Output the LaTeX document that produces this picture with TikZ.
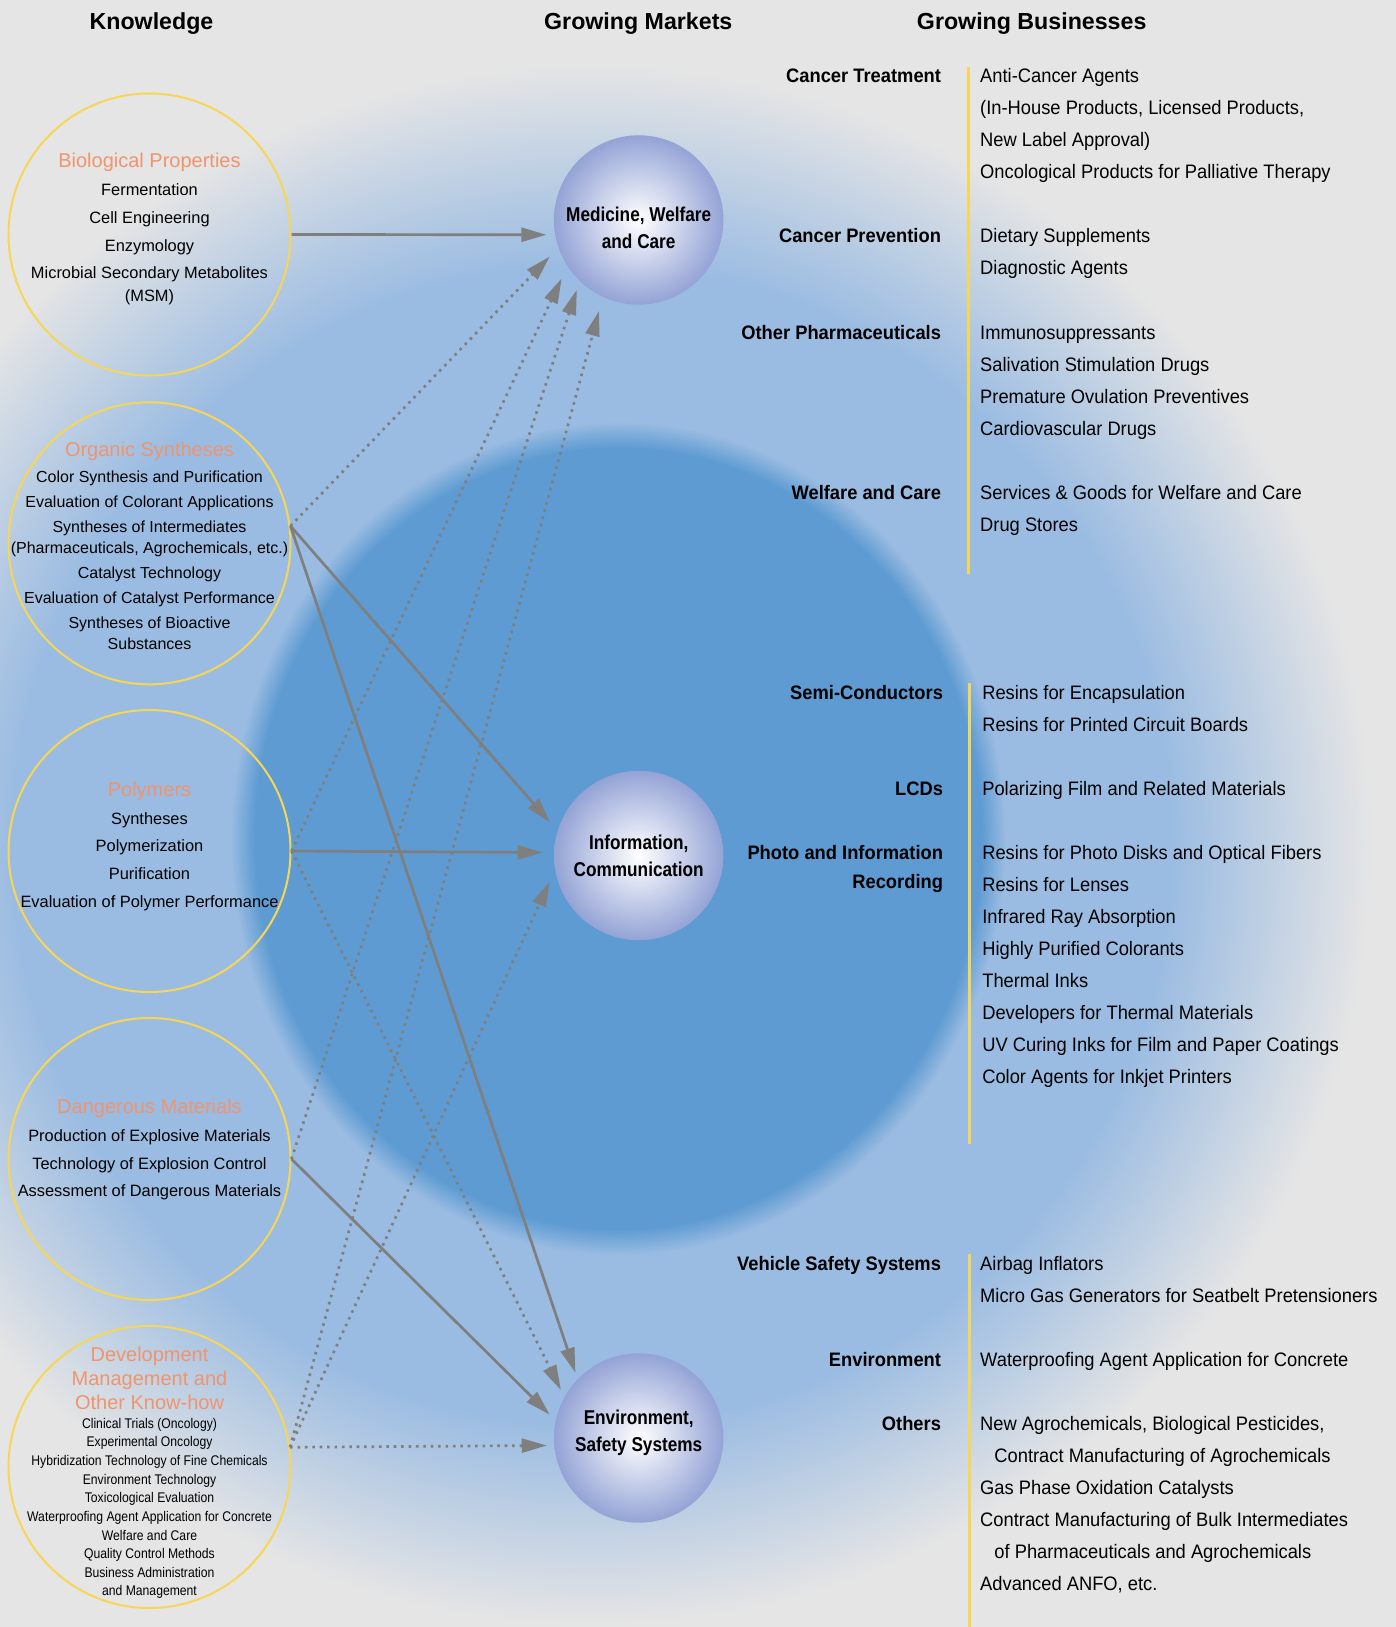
\documentclass[tikz,border=0pt]{standalone}
\usepackage{fontspec}
\setmainfont{Liberation Sans}
\newfontfamily\bizfont{Liberation Sans}[FakeStretch=0.94]
\newfontfamily\ballfont{Liberation Sans}[FakeStretch=0.86]
\newfontfamily\knowfont{Liberation Sans}[FakeStretch=0.87]
\usetikzlibrary{arrows.meta}
\definecolor{bggray}{RGB}{229,229,229}
\definecolor{ltblue}{RGB}{155,188,226}
\definecolor{dkblue}{RGB}{93,155,210}
\definecolor{ballrim}{RGB}{148,163,214}
\definecolor{kyellow}{RGB}{247,214,86}
\definecolor{korange}{RGB}{241,148,108}
\definecolor{arrgray}{RGB}{127,127,127}
\pgfdeclareradialshading{outerblob}{\pgfpointorigin}{color(0bp)=(ltblue); color(18.6bp)=(ltblue); color(25bp)=(bggray); color(50bp)=(bggray)}
\pgfdeclareradialshading{innerblob}{\pgfpointorigin}{color(0bp)=(dkblue); color(23.4bp)=(dkblue); color(25bp)=(ltblue); color(50bp)=(ltblue)}
\pgfdeclareradialshading{mktball}{\pgfpointorigin}{color(0bp)=(white); color(25bp)=(ballrim); color(50bp)=(ballrim)}
\begin{document}
\begin{tikzpicture}[x=0.5pt,y=-0.5pt,
  knowcirc/.style={circle,draw=kyellow,line width=1pt,minimum size=141pt,inner sep=0pt},
  knowhead/.style={inner sep=0pt,align=center,text=korange,font=\fontsize{10}{11.95}\selectfont},
  knowbody/.style={inner sep=0pt,align=center,font=\fontsize{8.2}{13.8}\selectfont},
  mktnode/.style={circle,shade,shading=mktball,minimum size=84.7pt,inner sep=0pt},
  mkttext/.style={inner sep=0pt,align=center,font=\ballfont\bfseries\fontsize{10}{13.5}\selectfont},
  colhead/.style={inner sep=0pt,text height=8.3pt,text depth=0pt,font=\bfseries\fontsize{11.6}{14}\selectfont},
  bizfield/.style={anchor=east,inner sep=0pt,text height=7pt,text depth=0pt,font=\bizfont\bfseries\fontsize{9.75}{12}\selectfont},
  bizitem/.style={anchor=west,inner sep=0pt,text height=7pt,text depth=0pt,font=\bizfont\fontsize{9.75}{12}\selectfont},
  bizrule/.style={draw=kyellow,line width=1.2pt},
  solidlink/.style={draw=arrgray,line width=1.35pt,-{Triangle[length=12.5pt,width=7pt]},shorten >=5.5pt},
  dotlink/.style={solidlink,dash pattern=on 1.3pt off 2.4pt}]
\useasboundingbox (0,0) rectangle (1396,1627);
\clip (0,0) rectangle (1396,1627);
\fill[bggray] (0,0) rectangle (1396,1627);
\shade[shading=outerblob] (592,845) circle (390pt);
\shade[shading=innerblob] (618,838.5) ellipse (194pt and 208.5pt);

\node[colhead] (hknow) at (151.5,20.8) {Knowledge};
\node[colhead] (hmkt) at (638.3,20.8) {Growing Markets};
\node[colhead] (hbiz) at (1031.7,20.8) {Growing Businesses};

\node[knowcirc] (bio) at (149.5,234.5) {};
\node[knowcirc] (org) at (149.5,543.3) {};
\node[knowcirc] (poly) at (149.5,851) {};
\node[knowcirc] (dang) at (149.5,1159) {};
\node[knowcirc] (dev) at (149.5,1467) {};

\node[knowhead] (biohead) at (149.5,162.5) {Biological Properties};
\node[knowbody] (biobody) at (149.5,244.5) {Fermentation\\Cell Engineering\\Enzymology\\Microbial Secondary Metabolites\\[-2.3pt](MSM)};
\node[knowhead] (orghead) at (149.5,451) {Organic Syntheses};
\node[knowbody,font=\fontsize{8}{12.5}\selectfont] (orgbody) at (149.5,560.5) {Color Synthesis and Purification\\Evaluation of Colorant Applications\\Syntheses of Intermediates\\[-2pt](Pharmaceuticals, Agrochemicals, etc.)\\Catalyst Technology\\Evaluation of Catalyst Performance\\Syntheses of Bioactive\\[-2pt]Substances};
\node[knowhead] (polyhead) at (149.5,791) {Polymers};
\node[knowbody,font=\fontsize{8.2}{13.85}\selectfont] (polybody) at (149.5,861.5) {Syntheses\\Polymerization\\Purification\\Evaluation of Polymer Performance};
\node[knowhead] (danghead) at (149.5,1108.5) {Dangerous Materials};
\node[knowbody,font=\fontsize{8.2}{13.75}\selectfont] (dangbody) at (149.5,1165) {Production of Explosive Materials\\Technology of Explosion Control\\Assessment of Dangerous Materials};
\node[knowhead] (devhead) at (149.5,1378) {Development\\Management and\\Other Know-how};
\node[knowbody,font=\knowfont\fontsize{7}{9.35}\selectfont] (devbody) at (149.5,1508) {Clinical Trials (Oncology)\\Experimental Oncology\\Hybridization Technology of Fine Chemicals\\Environment Technology\\Toxicological Evaluation\\Waterproofing Agent Application for Concrete\\Welfare and Care\\Quality Control Methods\\Business Administration\\[-0.6pt]and Management};

\node[mktnode] (med) at (638.7,220) {};
\node[mktnode] (info) at (638.7,855.5) {};
\node[mktnode] (env) at (638.7,1438) {};
\node[mkttext] (medtext) at ([yshift=-3.8pt]med.center) {Medicine, Welfare\\and Care};
\node[mkttext] (infotext) at (info.center) {Information,\\Communication};
\node[mkttext] (envtext) at ([yshift=2.8pt]env.center) {Environment,\\Safety Systems};

\draw[solidlink,shorten >=4.3pt] (bio.east) -- (med.190);
\draw[dotlink,shorten >=6.2pt] (org.7) -- (med.199);
\draw[solidlink,shorten >=5.6pt] (org.7) -- (info.163);
\draw[solidlink,shorten >=3.2pt] (org.7) -- (env.136);
\draw[dotlink,shorten >=6.7pt] (poly.east) -- (med.213);
\draw[solidlink,shorten >=5.5pt] (poly.east) -- (info.178);
\draw[dotlink,shorten >=3.8pt] (poly.east) -- (env.151);
\draw[dotlink,shorten >=4.5pt] (dang.east) -- (med.226);
\draw[solidlink,shorten >=4.1pt] (dang.east) -- (env.168);
\draw[dotlink,shorten >=7.2pt] (dev.8) -- (med.245);
\draw[dotlink,shorten >=6.3pt] (dev.8) -- (info.190);
\draw[dotlink,shorten >=3.6pt] (dev.8) -- (env.185);

\foreach \r/\t in {0/Cancer Treatment,5/Cancer Prevention,8/Other Pharmaceuticals,13/Welfare and Care}
  \node[bizfield] (fa\r) at (941.4,{75.8+32.03*\r}) {\t};
\foreach \r/\t in {0/Anti-Cancer Agents,1/{(In-House Products, Licensed Products,},2/New Label Approval),3/Oncological Products for Palliative Therapy,5/Dietary Supplements,6/Diagnostic Agents,8/Immunosuppressants,9/Salivation Stimulation Drugs,10/Premature Ovulation Preventives,11/Cardiovascular Drugs,13/Services \& Goods for Welfare and Care,14/Drug Stores}
  \node[bizitem] (ia\r) at (979.8,{75.8+32.03*\r}) {\t};
\draw[bizrule] (968.4,67.5) -- (968.4,574);

\foreach \r/\t in {0/Semi-Conductors,3/LCDs,5/Photo and Information}
  \node[bizfield] (fb\r) at (943.4,{692.3+32*\r}) {\t};
\node[bizfield] (fbrec) at (943.4,881.2) {Recording};
\foreach \r/\t in {0/Resins for Encapsulation,1/Resins for Printed Circuit Boards,3/Polarizing Film and Related Materials,5/Resins for Photo Disks and Optical Fibers,6/Resins for Lenses,7/Infrared Ray Absorption,8/Highly Purified Colorants,9/Thermal Inks,10/Developers for Thermal Materials,11/UV Curing Inks for Film and Paper Coatings,12/Color Agents for Inkjet Printers}
  \node[bizitem] (ib\r) at (981.9,{692.3+32*\r}) {\t};
\draw[bizrule] (969.4,683) -- (969.4,1143.8);

\foreach \r/\t in {0/Vehicle Safety Systems,3/Environment,5/Others}
  \node[bizfield] (fc\r) at (941.4,{1263.1+32*\r}) {\t};
\foreach \r/\t in {0/Airbag Inflators,1/Micro Gas Generators for Seatbelt Pretensioners,3/Waterproofing Agent Application for Concrete,5/{New Agrochemicals, Biological Pesticides,},7/Gas Phase Oxidation Catalysts,8/Contract Manufacturing of Bulk Intermediates,10/{Advanced ANFO, etc.}}
  \node[bizitem] (ic\r) at (979.8,{1263.1+32*\r}) {\t};
\foreach \r/\t in {6/Contract Manufacturing of Agrochemicals,9/of Pharmaceuticals and Agrochemicals}
  \node[bizitem] (ic\r) at (994,{1263.1+32*\r}) {\t};
\draw[bizrule] (969.4,1253.8) -- (969.4,1627);
\end{tikzpicture}
\end{document}
